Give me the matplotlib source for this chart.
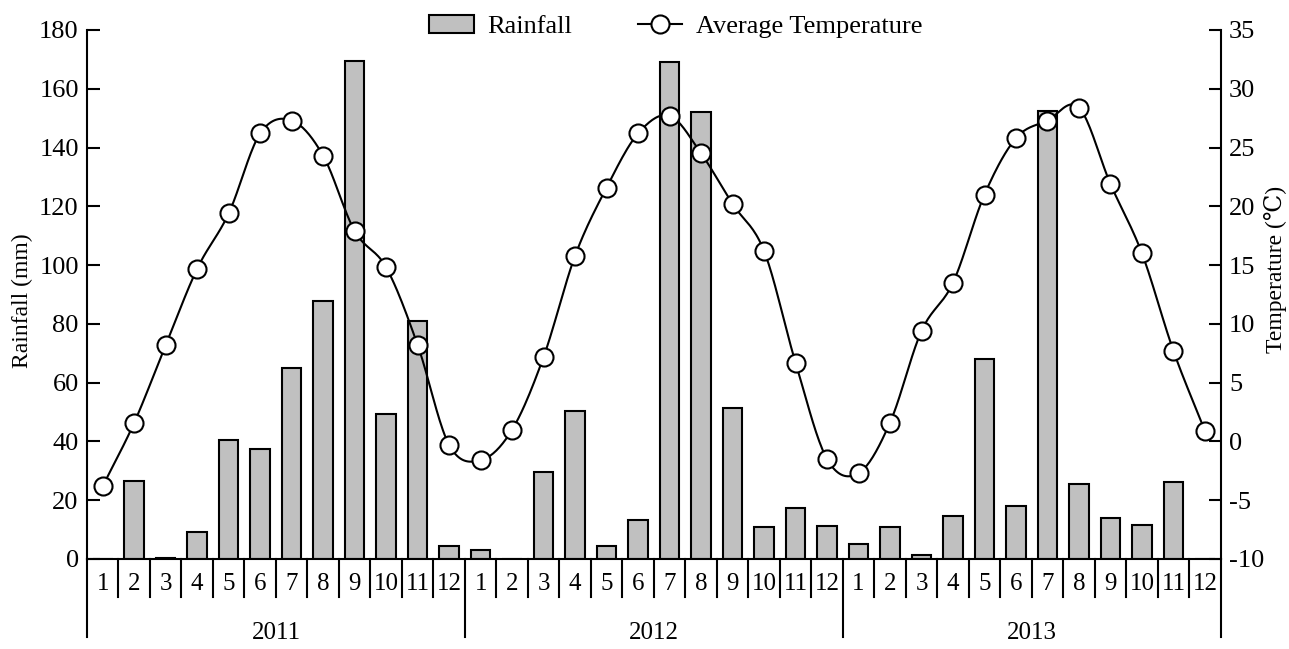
import numpy as np
import matplotlib
matplotlib.use('Agg')
import matplotlib.pyplot as plt
from matplotlib.patches import Patch
from matplotlib.lines import Line2D

plt.rcParams['font.family'] = ['Liberation Serif', 'DejaVu Serif', 'Noto Sans CJK SC']
plt.rcParams['axes.unicode_minus'] = False

years = ['2011', '2012', '2013']
months = [str(m) for m in range(1, 13)]

rain_2011 = [0, 26.6, 0.5, 9.1, 40.4, 37.4, 65.1, 87.8, 169.6, 49.2, 81.0, 4.3]
rain_2012 = [3.2, 0, 29.6, 50.2, 4.3, 13.4, 169.0, 152.0, 51.5, 10.9, 17.5, 11.1]
rain_2013 = [5.2, 11.0, 1.2, 14.6, 68.0, 18.1, 152.6, 25.5, 14.0, 11.6, 26.2, 0]

temp_2011 = [-3.8, 1.6, 8.2, 14.7, 19.4, 26.2, 27.3, 24.3, 17.9, 14.8, 8.2, -0.3]
temp_2012 = [-1.6, 1.0, 7.2, 15.8, 21.6, 26.2, 27.7, 24.5, 20.2, 16.2, 6.7, -1.5]
temp_2013 = [-2.7, 1.6, 9.4, 13.5, 21.0, 25.8, 27.3, 28.4, 21.9, 16.0, 7.7, 0.9]

rain = rain_2011 + rain_2012 + rain_2013
temp = temp_2011 + temp_2012 + temp_2013
x = np.arange(len(rain))


def smooth(xs, ys, n=20):
    # catmull-rom through the points
    xs = np.asarray(xs, float)
    ys = np.asarray(ys, float)
    px = np.concatenate([[2 * xs[0] - xs[1]], xs, [2 * xs[-1] - xs[-2]]])
    py = np.concatenate([[2 * ys[0] - ys[1]], ys, [2 * ys[-1] - ys[-2]]])
    ox, oy = [], []
    t = np.linspace(0, 1, n, endpoint=False)
    for i in range(1, len(px) - 2):
        for p, o in ((px, ox), (py, oy)):
            p0, p1, p2, p3 = p[i - 1], p[i], p[i + 1], p[i + 2]
            o.extend(0.5 * (2 * p1 + (-p0 + p2) * t
                            + (2 * p0 - 5 * p1 + 4 * p2 - p3) * t ** 2
                            + (-p0 + 3 * p1 - 3 * p2 + p3) * t ** 3))
    ox.append(xs[-1])
    oy.append(ys[-1])
    return np.array(ox), np.array(oy)


fig = plt.figure(figsize=(12.89, 6.49), dpi=100)
ax = fig.add_axes([0.0675, 0.1387, 0.8795, 0.8151])
ax2 = ax.twinx()

ax.bar(x, rain, width=0.62, color='#c0c0c0', edgecolor='black', linewidth=1.5, zorder=2)
ax.set_xlim(-0.5, len(rain) - 0.5)
ax.set_ylim(0, 180)
ax.set_yticks(range(0, 181, 20))
ax.set_xticks([])

sx, sy = smooth(x, temp)
ax2.plot(sx, sy, color='black', lw=1.5, zorder=3)
ax2.plot(x, temp, ls='none', marker='o', ms=13, mfc='white', mec='black', mew=1.5, zorder=4)
ax2.set_ylim(-10, 35)
ax2.set_yticks(range(-10, 36, 5))

for a in (ax, ax2):
    a.spines['top'].set_visible(False)
    a.tick_params(axis='y', direction='in', length=9, width=1.5, labelsize=19, pad=6)
    for s in a.spines.values():
        s.set_linewidth(1.5)
ax2.spines['left'].set_visible(False)
ax2.spines['bottom'].set_visible(False)
ax.spines['right'].set_visible(False)
ax.spines['left'].set_bounds(0, 180)

ax.set_ylabel('Rainfall (mm)', fontsize=17, va='center')
ax2.set_ylabel('Temperature (℃)', fontsize=17, va='center')
ax.yaxis.set_label_coords(-0.057, 0.488)
ax2.yaxis.set_label_coords(1.048, 0.548)

# month / year grid under the axis
tr = ax.get_xaxis_transform()
for i in range(len(rain) + 1):
    bottom = -0.148 if i % 12 == 0 else -0.072
    ax.plot([i - 0.5, i - 0.5], [0, bottom], transform=tr, color='black', lw=1.5, clip_on=False)
for i in range(len(rain)):
    ax.text(i, -0.047, months[i % 12], transform=tr, ha='center', va='center', fontsize=18)
for k, yr in enumerate(years):
    ax.text(k * 12 + 5.5, -0.14, yr, transform=tr, ha='center', va='center', fontsize=18)

handles = [Patch(facecolor='#c0c0c0', edgecolor='black', linewidth=1.5),
           Line2D([], [], color='black', lw=1.5, marker='o', ms=13, mfc='white', mec='black', mew=1.5)]
fig.legend(handles, ['Rainfall', 'Average Temperature'], loc='upper center',
           bbox_to_anchor=(0.524, 1.014), ncol=2, frameon=False, fontsize=19,
           handlelength=1.7, columnspacing=2.5, handletextpad=0.5)

fig.savefig('out.png', dpi=100)
